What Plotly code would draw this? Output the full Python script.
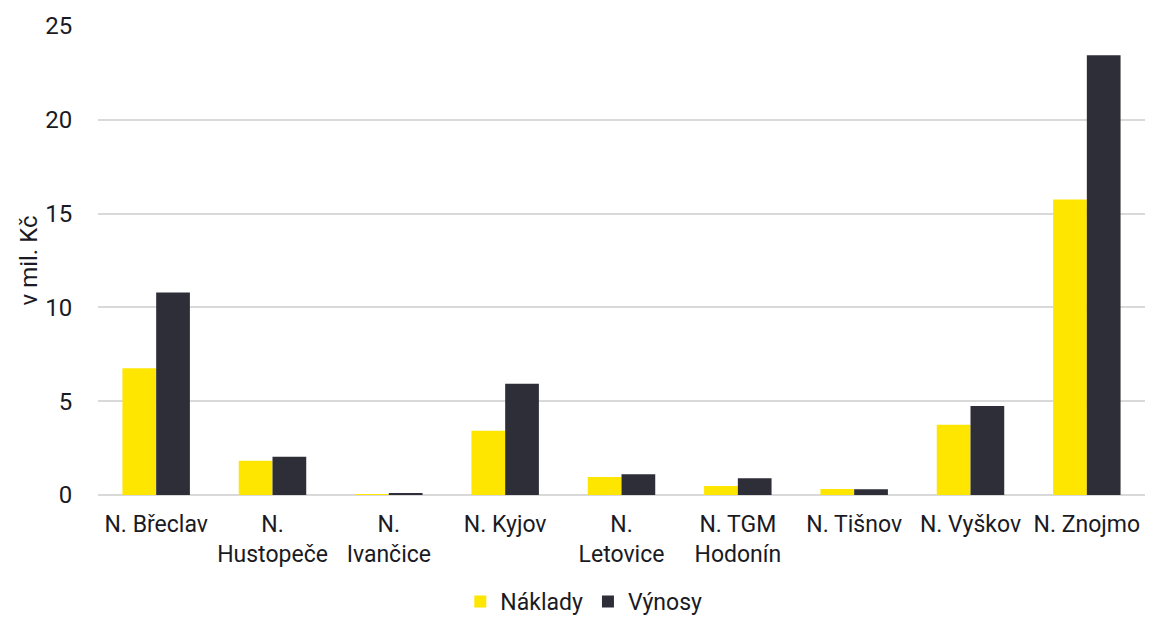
import plotly.graph_objects as go

categories = ["N. Břeclav", "N. Hustopeče", "N. Ivančice", "N. Kyjov", "N. Letovice",
              "N. TGM Hodonín", "N. Tišnov", "N. Vyškov", "N. Znojmo"]
tick_labels = ["N. Břeclav", "N.<br>Hustopeče", "N.<br>Ivančice", "N. Kyjov", "N.<br>Letovice",
               "N. TGM<br>Hodonín", "N. Tišnov", "N. Vyškov", "N. Znojmo"]
naklady = [6.76, 1.82, 0.05, 3.42, 0.96, 0.48, 0.32, 3.74, 15.75]
vynosy = [10.8, 2.04, 0.08, 5.93, 1.1, 0.89, 0.30, 4.75, 23.44]
y_ticks = [0, 5, 10, 15, 20, 25]

FONT = "Roboto, Open Sans, sans-serif"

fig = go.Figure()
fig.add_trace(go.Bar(name="Náklady", x=categories, y=naklady, marker_color="#FFE600",
                     marker_line_width=0))
fig.add_trace(go.Bar(name="Výnosy", x=categories, y=vynosy, marker_color="#2E2E38",
                     marker_line_width=0))

fig.update_layout(
    width=1158, height=618,
    paper_bgcolor="white", plot_bgcolor="white",
    barmode="group", bargap=0.42, bargroupgap=0,
    margin=dict(l=98, r=13, t=26, b=123, autoexpand=False),
    font=dict(family=FONT, size=23, color="#1a1a24"),
    legend=dict(orientation="h", x=0.464, xanchor="center", yref="paper",
                y=-0.227, yanchor="middle",
                font=dict(size=23), itemwidth=30, tracegroupgap=0),
    showlegend=True,
)
fig.update_xaxes(tickmode="array", tickvals=categories, ticktext=tick_labels,
                 showgrid=False, showline=False, ticks="outside", ticklen=8,
                 tickcolor="rgba(0,0,0,0)", tickfont=dict(size=23), automargin=False)
fig.update_yaxes(range=[0, 25], tickvals=y_ticks, showgrid=True, gridcolor="#d9d9d9",
                 gridwidth=1.5, zeroline=True, zerolinecolor="#d9d9d9", zerolinewidth=1.5,
                 showline=False, ticks="outside", ticklen=20, tickcolor="rgba(0,0,0,0)",
                 tickfont=dict(size=24), automargin=False,
                 title=dict(text="v mil. Kč", font=dict(size=24), standoff=0))

fig.write_html("out.html")
